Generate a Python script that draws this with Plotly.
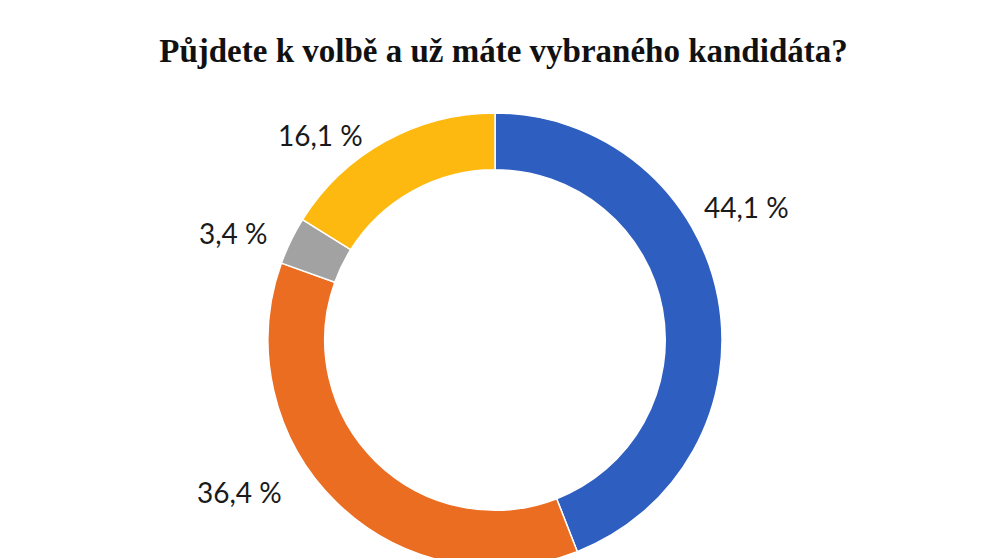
import plotly.graph_objects as go

# ======== DATA =========
TITLE = "Půjdete k volbě a už máte vybraného kandidáta?"
CATEGORIES = ["Ano, mám vybráno", "Ano, ale nemám vybráno", "Nevím", "Nepůjdu"]
VALUES = [44.1, 36.4, 3.4, 16.1]
COLORS = ["#2E5EC0", "#EA6D22", "#A2A2A2", "#FDB910"]

# ======== LAYOUT (px) =========
W, H = 991, 600
M = dict(l=0, r=17, t=105, b=41)
# label centres (px from top-left of the figure)
LABEL_PX = [(738, 199), (231, 484), (225, 225), (312, 127)]

plot_w = W - M["l"] - M["r"]
plot_h = H - M["t"] - M["b"]


def to_paper(px, py):
    return (px - M["l"]) / plot_w, 1 - (py - M["t"]) / plot_h


# ======== FIGURA =========
fig = go.Figure(go.Pie(
    labels=CATEGORIES,
    values=VALUES,
    hole=0.75,
    sort=False,
    direction="clockwise",
    rotation=0,
    marker=dict(colors=COLORS, line=dict(color="white", width=1.5)),
    textinfo="none",
    showlegend=False,
    hoverinfo="label+value",
))

for v, (px, py) in zip(VALUES, LABEL_PX):
    ax, ay = to_paper(px, py)
    fig.add_annotation(
        x=ax, y=ay, xref="paper", yref="paper",
        text=f"{v:.1f} %".replace(".", ","),
        showarrow=False, xanchor="center", yanchor="middle",
        font=dict(family="Lato", size=28, color="#1a1a1a"),
    )

fig.update_layout(
    title=dict(
        text=f"<b>{TITLE}</b>",
        x=0.5, xanchor="center",
        y=1 - 42 / H, yanchor="middle",
        font=dict(family="Liberation Serif", size=33, color="#111"),
    ),
    width=W, height=H,
    margin=M,
    paper_bgcolor="white",
)

fig.write_html("out.html")
